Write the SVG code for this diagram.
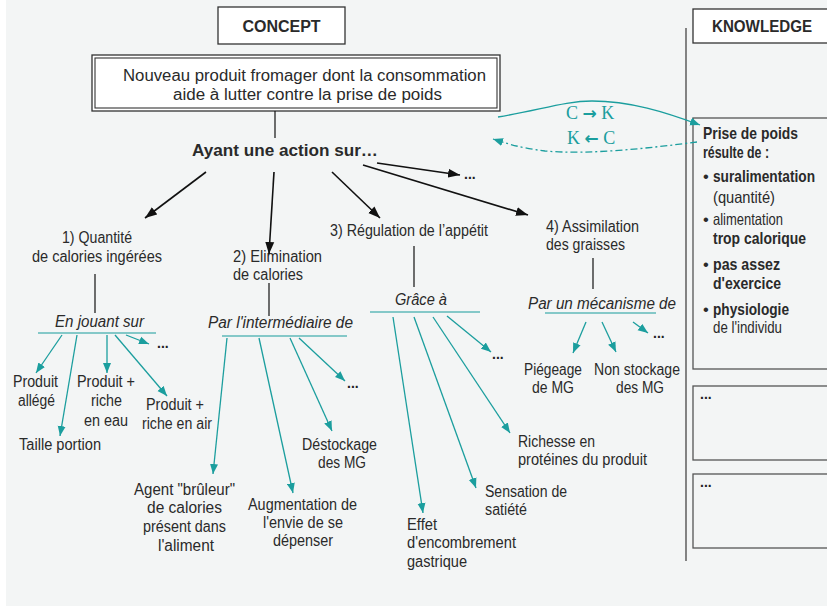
<svg xmlns="http://www.w3.org/2000/svg" width="827" height="606" viewBox="0 0 827 606">
<defs>
<style>
.t{font-family:"Liberation Sans",Arial,sans-serif;font-size:16px;fill:#2a2a2a}
.i{font-style:italic}
.b{font-weight:bold}
.k{font-size:16.5px}
.box{fill:#fff;stroke:#333;stroke-width:1.3}
.kbox{fill:none;stroke:#555;stroke-width:1.3}
.blk{stroke:#111;stroke-width:1.6;fill:none}
.tl{stroke:#1b9e9e;stroke-width:1.3;fill:none}
.ul{stroke:#5fb9b9;stroke-width:1.6}
.v{stroke:#111;stroke-width:1.2}
.dots{font-family:"Liberation Sans",Arial,sans-serif;font-size:14px;font-weight:bold;fill:#222}
.ck{font-family:"Liberation Serif","Times New Roman",serif;font-size:18px;fill:#1b9e9e}
</style>
<marker id="ab" markerUnits="userSpaceOnUse" markerWidth="13" markerHeight="10" refX="12" refY="5" orient="auto"><path d="M0,0.5 L12,5 L0,9.5 z" fill="#111"/></marker>
<marker id="at" markerUnits="userSpaceOnUse" markerWidth="11" markerHeight="9" refX="10" refY="4.5" orient="auto"><path d="M0,0.5 L10,4.5 L0,8.5 z" fill="#1b9e9e"/></marker>
</defs>
<rect x="6" y="0" width="821" height="606" fill="#f3f5f5"/>

<g id="concept-header">
<rect class="box" x="218" y="7" width="127" height="37"/>
<text class="t b" x="281.5" y="32" font-size="15" text-anchor="middle">CONCEPT</text>
</g>
<g id="knowledge-header">
<rect class="box" x="693" y="9" width="140" height="34"/>
<text class="t b" x="712" y="32" font-size="15" textLength="100" lengthAdjust="spacingAndGlyphs">KNOWLEDGE</text>
</g>
<line x1="686" y1="28" x2="686" y2="561" stroke="#666" stroke-width="1.6"/>

<g id="root">
<rect class="box" x="92" y="55" width="408" height="56"/>
<rect x="95" y="58" width="402" height="50" fill="none" stroke="#333" stroke-width="1.1"/>
<text class="t" font-size="19" x="123" y="81" textLength="363" lengthAdjust="spacingAndGlyphs">Nouveau produit fromager dont la consommation</text>
<text class="t" font-size="19" x="173" y="100" textLength="269" lengthAdjust="spacingAndGlyphs">aide à lutter contre la prise de poids</text>
</g>

<g id="action">
<text class="t b" x="192" y="156" font-size="16" textLength="186" lengthAdjust="spacingAndGlyphs">Ayant une action sur…</text>
</g>

<g id="n1">
<text class="t" x="62" y="243" textLength="70" lengthAdjust="spacingAndGlyphs">1) Quantité</text>
<text class="t" x="32" y="262" textLength="130" lengthAdjust="spacingAndGlyphs">de calories ingérées</text>
</g>
<g id="n2">
<text class="t" x="233" y="262" textLength="89" lengthAdjust="spacingAndGlyphs">2) Elimination</text>
<text class="t" x="233" y="280" textLength="70" lengthAdjust="spacingAndGlyphs">de calories</text>
</g>
<g id="n3">
<text class="t" x="330" y="236" textLength="158" lengthAdjust="spacingAndGlyphs">3) Régulation de l’appétit</text>
</g>
<g id="n4">
<text class="t" x="546" y="232" textLength="93" lengthAdjust="spacingAndGlyphs">4) Assimilation</text>
<text class="t" x="546" y="250" textLength="79" lengthAdjust="spacingAndGlyphs">des graisses</text>
</g>
<g id="more-top"><text class="dots" x="464" y="179">...</text></g>

<g id="s1">
<text class="t i" x="55" y="327" textLength="89" lengthAdjust="spacingAndGlyphs">En jouant sur</text>
<line class="ul" x1="38" y1="333" x2="156" y2="333"/>
</g>
<g id="s2">
<text class="t i" x="208" y="328" textLength="145" lengthAdjust="spacingAndGlyphs">Par l'intermédiaire de</text>
<line class="ul" x1="222" y1="336" x2="347" y2="336"/>
</g>
<g id="s3">
<text class="t i" x="395" y="305" textLength="52" lengthAdjust="spacingAndGlyphs">Grâce à</text>
<line class="ul" x1="370" y1="312" x2="480" y2="312"/>
</g>
<g id="s4">
<text class="t i" x="528" y="309" textLength="148" lengthAdjust="spacingAndGlyphs">Par un mécanisme de</text>
<line class="ul" x1="545" y1="313" x2="656" y2="313"/>
</g>

<g id="l1a"><text class="t" x="13" y="387" textLength="45" lengthAdjust="spacingAndGlyphs">Produit</text><text class="t" x="18" y="406" textLength="37" lengthAdjust="spacingAndGlyphs">allégé</text></g>
<g id="l1b"><text class="t" x="19" y="450" textLength="82" lengthAdjust="spacingAndGlyphs">Taille portion</text></g>
<g id="l1c"><text class="t" x="77" y="387" textLength="58" lengthAdjust="spacingAndGlyphs">Produit +</text><text class="t" x="91" y="406" textLength="31" lengthAdjust="spacingAndGlyphs">riche</text><text class="t" x="84" y="426" textLength="44" lengthAdjust="spacingAndGlyphs">en eau</text></g>
<g id="l1d"><text class="t" x="146" y="410" textLength="58" lengthAdjust="spacingAndGlyphs">Produit +</text><text class="t" x="142" y="429" textLength="70" lengthAdjust="spacingAndGlyphs">riche en air</text></g>
<g id="l1e"><text class="dots" x="157" y="348">...</text></g>

<g id="l2a"><text class="t" x="134" y="495" textLength="101" lengthAdjust="spacingAndGlyphs">Agent "brûleur"</text><text class="t" x="147" y="513" textLength="75" lengthAdjust="spacingAndGlyphs">de calories</text><text class="t" x="143" y="532" textLength="83" lengthAdjust="spacingAndGlyphs">présent dans</text><text class="t" x="158" y="551" textLength="56" lengthAdjust="spacingAndGlyphs">l'aliment</text></g>
<g id="l2b"><text class="t" x="248" y="510" textLength="109" lengthAdjust="spacingAndGlyphs">Augmentation de</text><text class="t" x="263" y="528" textLength="80" lengthAdjust="spacingAndGlyphs">l'envie de se</text><text class="t" x="273" y="546" textLength="60" lengthAdjust="spacingAndGlyphs">dépenser</text></g>
<g id="l2c"><text class="t" x="302" y="450" textLength="75" lengthAdjust="spacingAndGlyphs">Déstockage</text><text class="t" x="318" y="468" textLength="48" lengthAdjust="spacingAndGlyphs">des MG</text></g>
<g id="l2d"><text class="dots" x="347" y="388">...</text></g>

<g id="l3a"><text class="t" x="407" y="530" textLength="30" lengthAdjust="spacingAndGlyphs">Effet</text><text class="t" x="407" y="548" textLength="109" lengthAdjust="spacingAndGlyphs">d'encombrement</text><text class="t" x="407" y="567" textLength="60" lengthAdjust="spacingAndGlyphs">gastrique</text></g>
<g id="l3b"><text class="t" x="485" y="497" textLength="82" lengthAdjust="spacingAndGlyphs">Sensation de</text><text class="t" x="485" y="515" textLength="42" lengthAdjust="spacingAndGlyphs">satiété</text></g>
<g id="l3c"><text class="t" x="518" y="447" textLength="77" lengthAdjust="spacingAndGlyphs">Richesse en</text><text class="t" x="518" y="465" textLength="129" lengthAdjust="spacingAndGlyphs">protéines du produit</text></g>
<g id="l3d"><text class="dots" x="492" y="359">...</text></g>

<g id="l4a"><text class="t" x="524" y="375" textLength="58" lengthAdjust="spacingAndGlyphs">Piégeage</text><text class="t" x="532" y="393" textLength="42" lengthAdjust="spacingAndGlyphs">de MG</text></g>
<g id="l4b"><text class="t" x="594" y="375" textLength="86" lengthAdjust="spacingAndGlyphs">Non stockage</text><text class="t" x="616" y="393" textLength="48" lengthAdjust="spacingAndGlyphs">des MG</text></g>
<g id="l4c"><text class="dots" x="653" y="338">...</text></g>

<g id="k1">
<rect class="kbox" x="693" y="118" width="140" height="251"/>
<text class="t b k" x="703" y="139" textLength="95" lengthAdjust="spacingAndGlyphs">Prise de poids</text>
<text class="t b k" x="703" y="158" textLength="66" lengthAdjust="spacingAndGlyphs">résulte de :</text>
<text class="t k" x="703" y="182">•</text>
<text class="t b k" x="713" y="182" textLength="102" lengthAdjust="spacingAndGlyphs">suralimentation</text>
<text class="t k" x="713" y="203" font-size="15.5" textLength="62" lengthAdjust="spacingAndGlyphs">(quantité)</text>
<text class="t k" x="703" y="225">•</text>
<text class="t k" x="713" y="225" font-size="15.5" textLength="70" lengthAdjust="spacingAndGlyphs">alimentation</text>
<text class="t b k" x="713" y="244" textLength="93" lengthAdjust="spacingAndGlyphs">trop calorique</text>
<text class="t k" x="703" y="270">•</text>
<text class="t b k" x="713" y="270" textLength="67" lengthAdjust="spacingAndGlyphs">pas assez</text>
<text class="t b k" x="713" y="289" textLength="68" lengthAdjust="spacingAndGlyphs">d'exercice</text>
<text class="t k" x="703" y="315">•</text>
<text class="t b k" x="713" y="315" textLength="76" lengthAdjust="spacingAndGlyphs">physiologie</text>
<text class="t k" x="713" y="333" font-size="15.5" textLength="69" lengthAdjust="spacingAndGlyphs">de l'individu</text>
</g>
<g id="k2"><rect class="kbox" x="693" y="386" width="140" height="74"/><text class="dots" x="700" y="399">...</text></g>
<g id="k3"><rect class="kbox" x="693" y="474" width="140" height="74"/><text class="dots" x="700" y="487">...</text></g>

<g id="ck-labels">
<text class="ck" x="566" y="119">C <tspan font-family="DejaVu Sans,sans-serif" font-weight="bold" font-size="17">→</tspan> K</text>
<text class="ck" x="567" y="144">K <tspan font-family="DejaVu Sans,sans-serif" font-weight="bold" font-size="17">←</tspan> C</text>
</g>

<g id="connectors">
<line class="v" x1="275" y1="111" x2="275" y2="138"/>
<line class="blk" x1="206" y1="172" x2="145" y2="218" marker-end="url(#ab)"/>
<line class="blk" x1="274" y1="172" x2="269" y2="254" marker-end="url(#ab)"/>
<line class="blk" x1="332" y1="172" x2="380" y2="218" marker-end="url(#ab)"/>
<line class="blk" x1="377" y1="163" x2="460" y2="175" marker-end="url(#ab)"/>
<line class="blk" x1="363" y1="165" x2="528" y2="215" marker-end="url(#ab)"/>
<line class="v" x1="95" y1="274" x2="95" y2="313"/>
<line class="v" x1="269" y1="283" x2="269" y2="316"/>
<line class="v" x1="414" y1="246" x2="414" y2="287"/>
<line class="v" x1="593" y1="258" x2="593" y2="289"/>

<line class="tl" x1="62" y1="335" x2="36" y2="373" marker-end="url(#at)"/>
<line class="tl" x1="77" y1="335" x2="60" y2="436" marker-end="url(#at)"/>
<line class="tl" x1="107" y1="335" x2="107" y2="373" marker-end="url(#at)"/>
<line class="tl" x1="115" y1="335" x2="167" y2="396" marker-end="url(#at)"/>
<line class="tl" x1="126" y1="335" x2="149" y2="344" marker-end="url(#at)"/>

<line class="tl" x1="227" y1="338" x2="213" y2="474" marker-end="url(#at)"/>
<line class="tl" x1="259" y1="338" x2="293" y2="493" marker-end="url(#at)"/>
<line class="tl" x1="290" y1="338" x2="332" y2="431" marker-end="url(#at)"/>
<line class="tl" x1="299" y1="338" x2="345" y2="381" marker-end="url(#at)"/>

<line class="tl" x1="393" y1="317" x2="423" y2="513" marker-end="url(#at)"/>
<line class="tl" x1="414" y1="317" x2="476" y2="488" marker-end="url(#at)"/>
<line class="tl" x1="433" y1="317" x2="510" y2="433" marker-end="url(#at)"/>
<line class="tl" x1="447" y1="316" x2="491" y2="352" marker-end="url(#at)"/>

<line class="tl" x1="586" y1="322" x2="573" y2="353" marker-end="url(#at)"/>
<line class="tl" x1="602" y1="322" x2="616" y2="352" marker-end="url(#at)"/>
<line class="tl" x1="633" y1="322" x2="648" y2="333" marker-end="url(#at)"/>

<path class="tl" d="M498,117 C540,110 565,101 592,101 C630,101 665,112 700,125" marker-end="url(#at)"/>
<path class="tl" d="M697,142 C650,148 590,155 545,151 C520,148 505,143 493,139" stroke-dasharray="7 3 2 3" marker-end="url(#at)"/>
</g>
</svg>
